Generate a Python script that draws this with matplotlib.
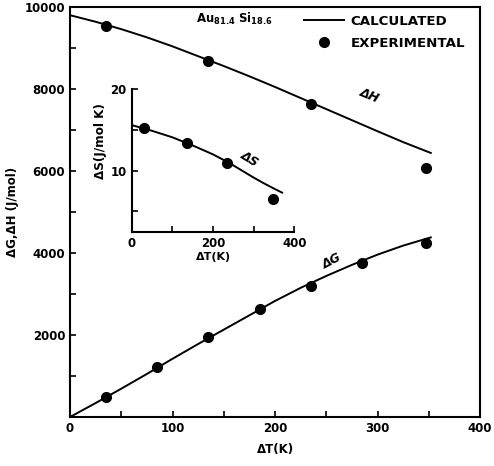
import matplotlib
matplotlib.use('Agg')
import matplotlib.pyplot as plt
from matplotlib.lines import Line2D

# experimental points
t_h_exp = [35, 135, 235, 347]
h_exp = [9540, 8680, 7630, 6070]
t_g_exp = [35, 85, 135, 185, 235, 285, 347]
g_exp = [480, 1230, 1950, 2640, 3200, 3750, 4240]
t_s_exp = [31, 135, 235, 348]
s_exp = [15.3, 13.4, 11.0, 6.5]

# calculated curves
t_calc = [0, 25, 50, 75, 100, 125, 150, 175, 200, 225, 250, 275, 300, 325, 352]
h_calc = [9800, 9640, 9460, 9260, 9040, 8800, 8560, 8310, 8050, 7780, 7510, 7240, 6970, 6705, 6440]
g_calc = [0, 340, 690, 1050, 1420, 1780, 2130, 2480, 2830, 3150, 3440, 3710, 3960, 4180, 4380]
t_s_calc = [0, 25, 50, 75, 100, 125, 150, 175, 200, 225, 250, 275, 300, 325, 350, 370]
s_calc = [15.6, 15.25, 14.9, 14.5, 14.1, 13.6, 13.1, 12.55, 12.0, 11.35, 10.65, 9.9, 9.15, 8.45, 7.8, 7.3]

plt.rcParams['font.family'] = 'DejaVu Sans'
plt.rcParams['font.weight'] = 'bold'

fig = plt.figure(figsize=(4.94, 4.66), dpi=100)
ax = fig.add_axes([70/494, 49/466, 410/494, 410/466])

lw = 1.4
ms = 7
ax.plot(t_calc, h_calc, color='black', lw=lw)
ax.plot(t_calc, g_calc, color='black', lw=lw)
ax.plot(t_h_exp, h_exp, 'o', color='black', ms=ms)
ax.plot(t_g_exp, g_exp, 'o', color='black', ms=ms)

ax.set_xlim(0, 400)
ax.set_ylim(0, 10000)
ax.set_xticks([0, 100, 200, 300, 400])
ax.set_xticks([50, 150, 250, 350], minor=True)
ax.set_yticks([2000, 4000, 6000, 8000, 10000])
ax.set_yticks([1000, 3000, 5000, 7000, 9000], minor=True)
ax.tick_params(which='both', direction='in', length=4, width=1.2, labelsize=8.5)
for s in ax.spines.values():
    s.set_linewidth(1.5)
ax.set_xlabel('ΔT(K)', fontsize=8.5, fontweight='bold', labelpad=6)
ax.set_ylabel('ΔG,ΔH (J/mol)', fontsize=8.5, fontweight='bold', labelpad=4)

ax.text(292, 7850, 'ΔH', fontsize=9, style='italic', rotation=-22, ha='center', va='center')
ax.text(256, 3800, 'ΔG', fontsize=9, style='italic', rotation=28, ha='center', va='center')
ax.text(160, 9720, r'Au$_{81.4}$ Si$_{18.6}$', fontsize=8.5, ha='center', va='center')

handles = [Line2D([], [], color='black', lw=lw),
           Line2D([], [], marker='o', ls='none', color='black', ms=ms)]
ax.legend(handles, ['CALCULATED', 'EXPERIMENTAL'], loc='upper right',
          bbox_to_anchor=(0.993, 1.01), frameon=False, fontsize=9.6,
          handlelength=3.0, handletextpad=0.5, labelspacing=0.65)

# inset
ins = fig.add_axes([131.7/494, (466-231.7)/466, 162.6/494, 142.4/466])
ins.plot(t_s_calc, s_calc, color='black', lw=lw)
ins.plot(t_s_exp, s_exp, 'o', color='black', ms=ms)
ins.set_xlim(0, 400)
ins.set_ylim(2.5, 20)
ins.set_xticks([0, 200, 400])
ins.set_xticks([100, 300], minor=True)
ins.set_yticks([10, 20])
ins.set_yticks([5, 15], minor=True)
ins.spines['top'].set_visible(False)
ins.spines['right'].set_visible(False)
for s in ['left', 'bottom']:
    ins.spines[s].set_linewidth(1.5)
ins.patch.set_alpha(0)
ins.tick_params(which='both', direction='in', length=4, width=1.2, labelsize=8.5)
ins.set_xlabel('ΔT(K)', fontsize=8, fontweight='bold', labelpad=2)
ins.set_ylabel('ΔS(J/mol K)', fontsize=9.5, fontweight='bold', fontstretch='condensed')
ins.yaxis.set_label_coords(-0.15, 0.64)
ins.text(291, 11.4, 'ΔS', fontsize=9, style='italic', rotation=-32, ha='center', va='center')

fig.savefig('out.png', dpi=100)
